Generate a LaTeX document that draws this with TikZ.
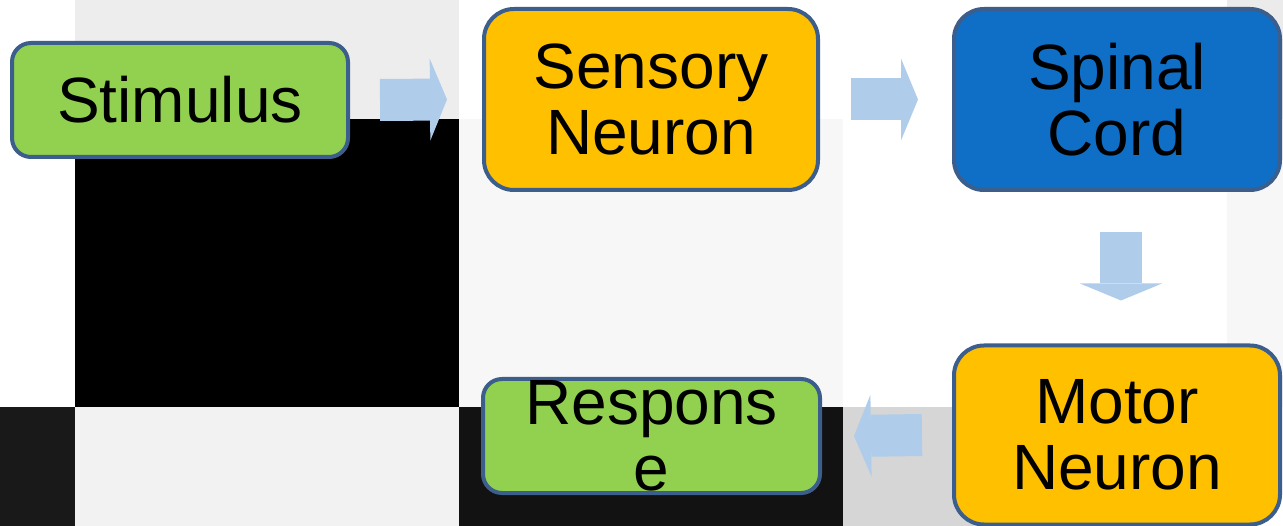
\documentclass[tikz,border=0pt]{standalone}
\usepackage{fontspec}
\setmainfont{Liberation Sans}
\usetikzlibrary{arrows.meta}
\definecolor{boxline}{HTML}{3B5E8C}
\definecolor{leafgreen}{HTML}{92D050}
\definecolor{amber}{HTML}{FFC000}
\definecolor{cordblue}{HTML}{0F6FC6}
\definecolor{paleblue}{HTML}{AFCDEA}
\tikzstyle{box} = [draw=boxline, line width=4pt, inner sep=0pt, align=center, font=\fontsize{64}{66}\selectfont]
\tikzstyle{smallbox} = [box, minimum width=336pt, minimum height=114pt, rounded corners=19pt]
\tikzstyle{bigbox} = [box, minimum width=330pt, minimum height=181pt, rounded corners=30pt]
\tikzstyle{blockarrow} = [draw=paleblue, line width=42pt, -{Triangle[width=82pt,length=17pt,line width=0pt]}]

\begin{document}
\begin{tikzpicture}[x=1pt,y=-1pt]
		\useasboundingbox (0,0) rectangle (1283,526);
		% background tiles
		\fill[white] (0,0) rectangle (1283,526);
		\fill[black!7] (75,0) rectangle (459,119);
		\fill[black!8] (1227,0) rectangle (1283,119);
		\fill[black] (75,119) rectangle (459,407);
		\fill[black!3] (459,119) rectangle (843,407);
		\fill[black!3] (1227,119) rectangle (1283,407);
		\fill[black!90] (0,407) rectangle (75,526);
		\fill[black!5] (75,407) rectangle (459,526);
		\fill[black!93] (459,407) rectangle (843,526);
		\fill[black!16] (843,407) rectangle (1227,526);
		% boxes
		\node[smallbox, fill=leafgreen] (stim) at (180,100) {Stimulus};
		\node[bigbox, fill=amber, minimum width=334pt] (sens) at (651,99.5) {Sensory\\Neuron};
		\node[bigbox, fill=cordblue, minimum width=326pt] (spin) at (1117,99.5) {Spinal\\Cord};
		\node[bigbox, fill=amber, minimum width=326pt, minimum height=179pt] (moto) at (1117,435) {Motor\\Neuron};
		\node[smallbox, fill=leafgreen, minimum width=337pt] (resp) at (651.5,436) {Respons\\e};
		% arrows
		\draw[blockarrow] ([xshift=30pt]stim.east) -- ([xshift=-35pt]sens.west);
		\draw[blockarrow] ([xshift=31pt]sens.east) -- ([xshift=-34pt]spin.west);
		\draw[blockarrow] ([xshift=4pt,yshift=-40pt]spin.south) -- ([xshift=4pt,yshift=43pt]moto.north);
		\draw[blockarrow] ([xshift=-30pt]moto.west) -- ([xshift=32pt]resp.east);
	\end{tikzpicture}
\end{document}
